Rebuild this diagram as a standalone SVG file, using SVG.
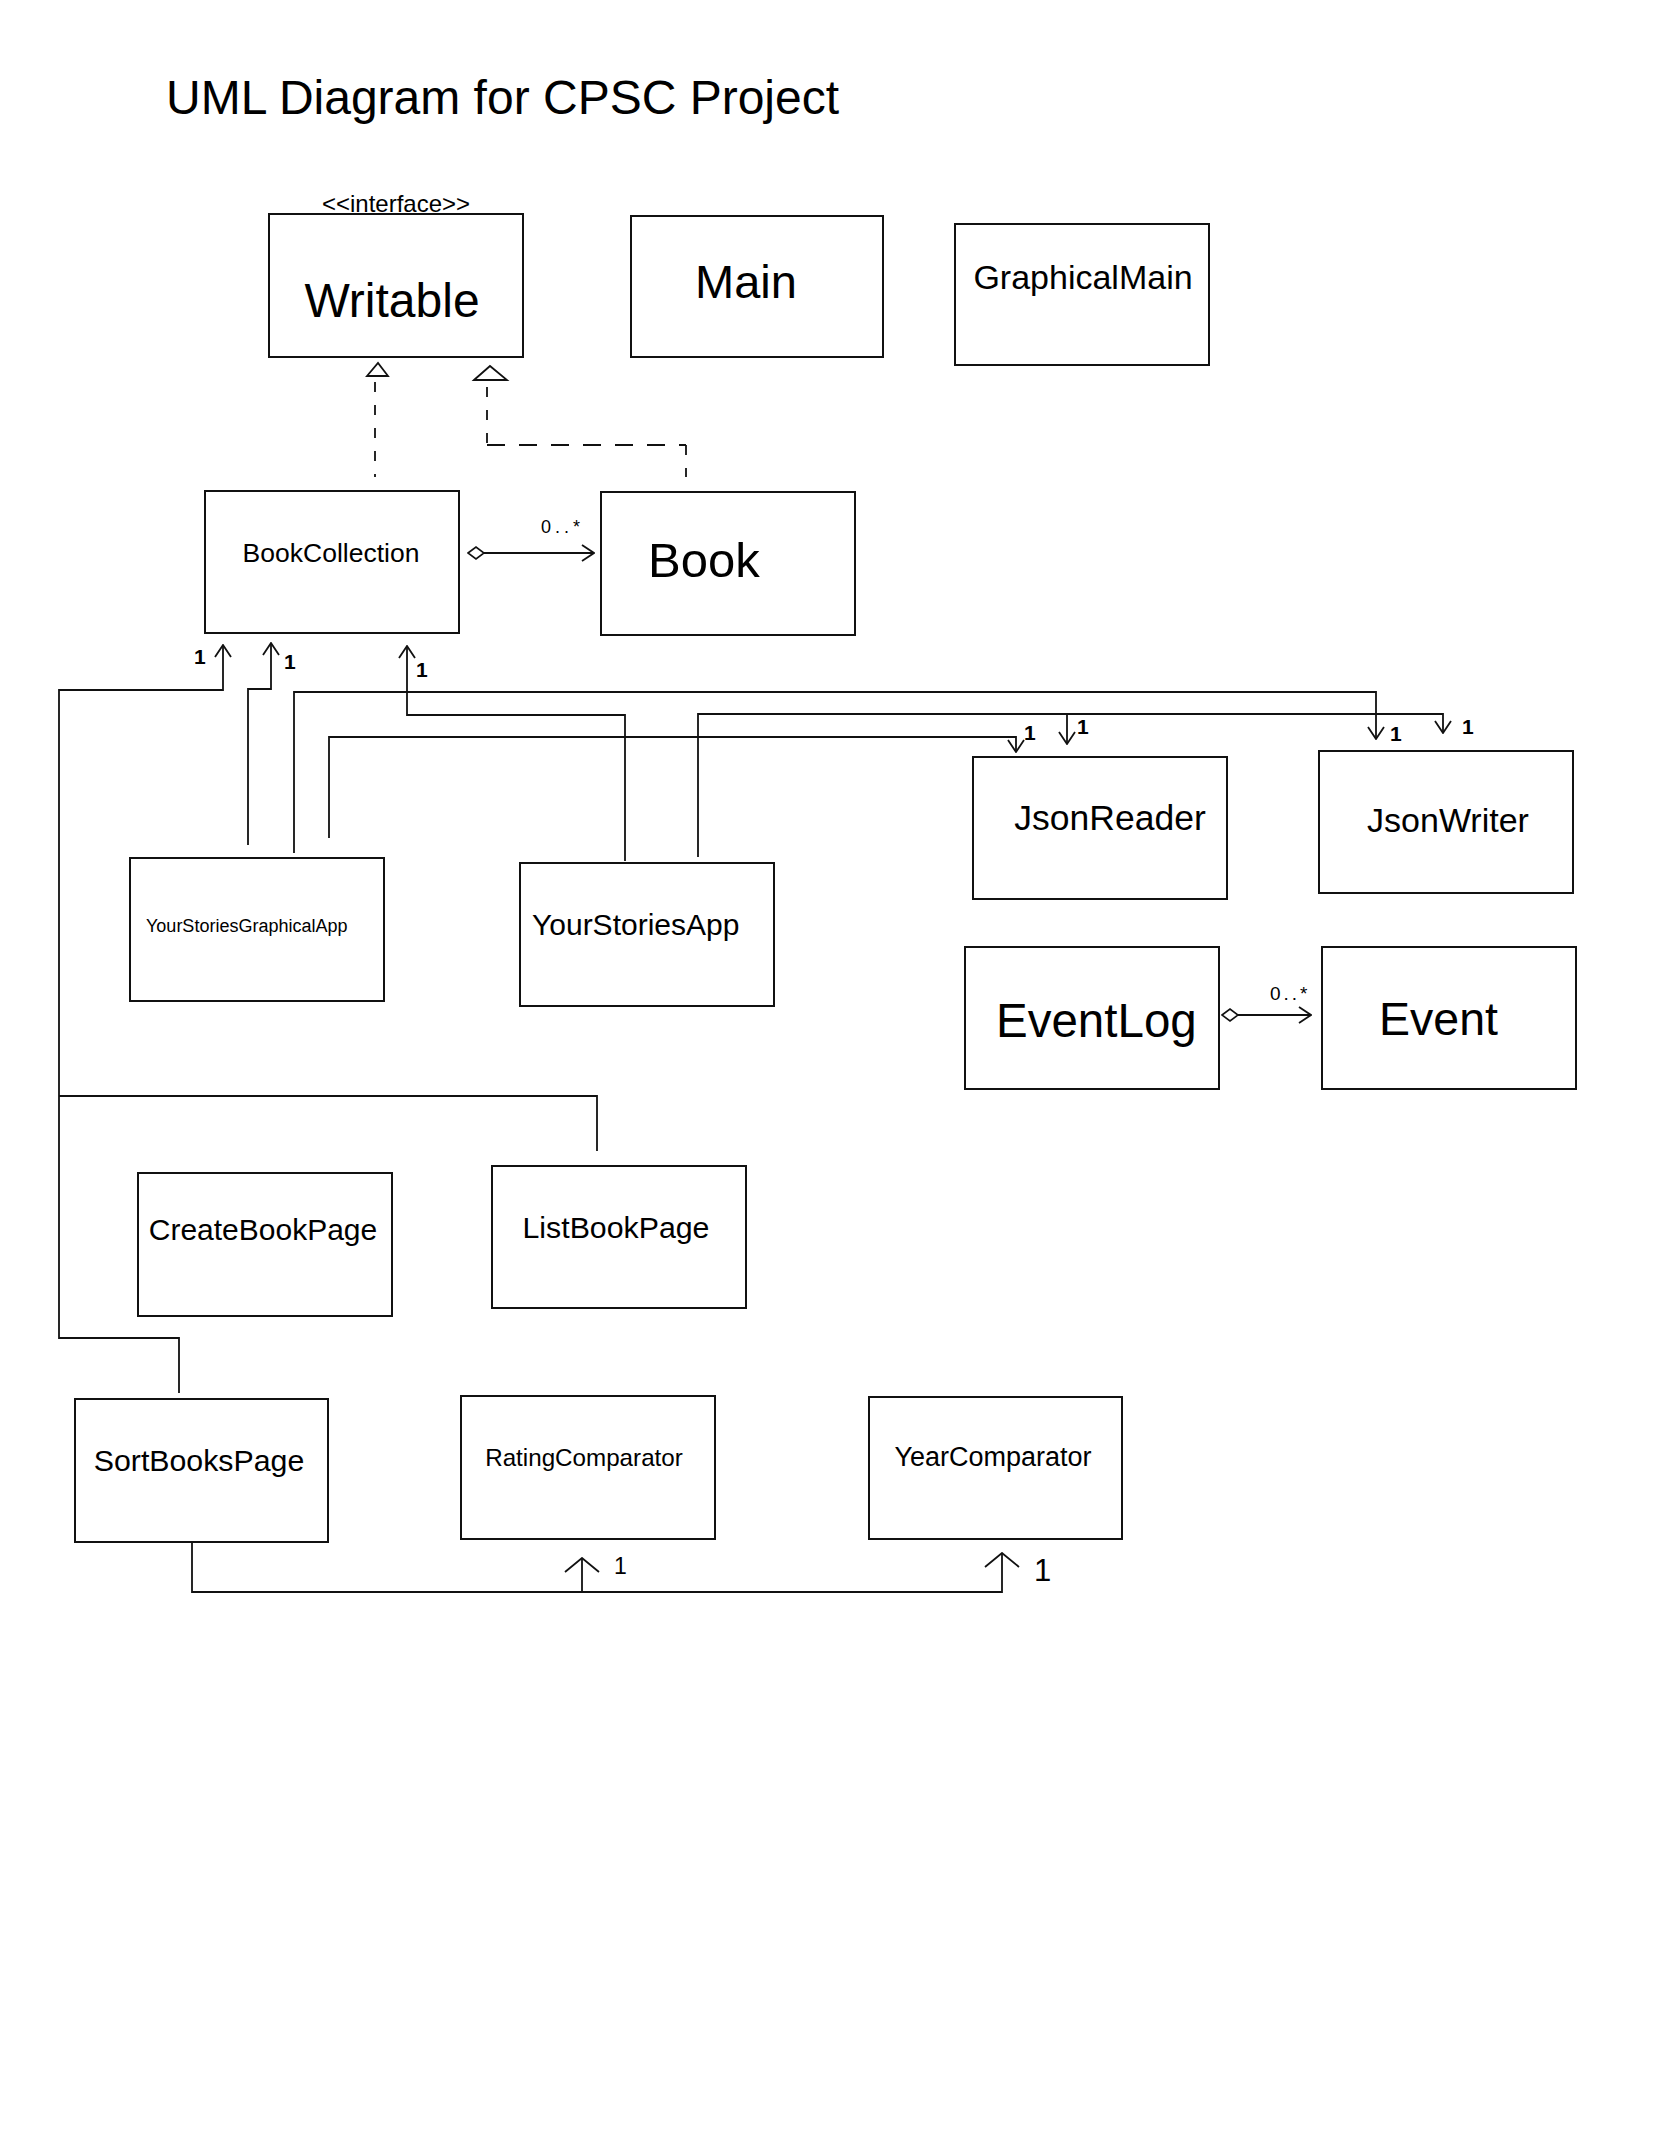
<svg xmlns="http://www.w3.org/2000/svg" width="1668" height="2154" viewBox="0 0 1668 2154">
<style>
  .box { fill: #fff; stroke: #111; stroke-width: 2; }
  .t { font-family: "Liberation Sans", Arial, Helvetica, sans-serif; fill: #000; }
  .c { text-anchor: middle; }
  .ln { fill: none; stroke: #111; stroke-width: 1.8; }
  .dash { fill: none; stroke: #111; stroke-width: 1.8; stroke-dasharray: 10 13; }
  .dashh { fill: none; stroke: #111; stroke-width: 1.8; stroke-dasharray: 18 14; }
  .tri { fill: #fff; stroke: #111; stroke-width: 1.8; }
  .m { font-family: "Liberation Sans", Arial, sans-serif; font-weight: bold; fill: #000; font-size: 21px; }
  .hm { font-family: "Liberation Sans", Arial, sans-serif; fill: #000; }
</style>
<defs>
  <marker id="open" viewBox="0 0 14 18" refX="13" refY="9" markerWidth="14" markerHeight="18" markerUnits="userSpaceOnUse" orient="auto">
    <path d="M1,1 L13,9 L1,17" fill="none" stroke="#111" stroke-width="1.8"/>
  </marker>
  <marker id="wide" viewBox="0 0 16 36" refX="15" refY="18" markerWidth="16" markerHeight="36" markerUnits="userSpaceOnUse" orient="auto">
    <path d="M1,1 L15,18 L1,35" fill="none" stroke="#111" stroke-width="1.8"/>
  </marker>
  <marker id="diamond" viewBox="0 0 18 14" refX="1" refY="7" markerWidth="18" markerHeight="14" markerUnits="userSpaceOnUse" orient="auto">
    <path d="M1,7 L9,1 L17,7 L9,13 Z" fill="#fff" stroke="#111" stroke-width="1.6"/>
  </marker>
</defs>
<rect width="1668" height="2154" fill="#fff"/>

<text class="t" x="166" y="114" font-size="48">UML Diagram for CPSC Project</text>

<g id="connectors">
  <!-- realization to Writable -->
  <polygon class="tri" points="367,376 378,363 388,376"/>
  <polygon class="tri" points="474,380 490,366 507,380"/>
  <path class="dash" d="M375,382 V477"/>
  <path class="dash" d="M487,387 V445"/>
  <path class="dashh" d="M487,445 H686"/>
  <path class="dash" d="M686,445 V477"/>
  <!-- aggregations -->
  <path class="ln" d="M468,553 H594" marker-start="url(#diamond)" marker-end="url(#open)"/>
  <text class="hm" x="541" y="533" font-size="18" letter-spacing="4">0..*</text>
  <path class="ln" d="M1222,1015 H1311" marker-start="url(#diamond)" marker-end="url(#open)"/>
  <text class="hm" x="1270" y="1000" font-size="19" letter-spacing="3">0..*</text>
  <!-- pages to BookCollection -->
  <path class="ln" d="M179,1393 V1338 H59 V690 H223 V645" marker-end="url(#open)"/>
  <path class="ln" d="M597,1151 V1096 H59"/>
  <text class="m" x="194" y="664">1</text>
  <!-- YourStoriesGraphicalApp -->
  <path class="ln" d="M248,845 V689 H271 V643" marker-end="url(#open)"/>
  <text class="m" x="284" y="669">1</text>
  <path class="ln" d="M294,853 V692 H1376 V739" marker-end="url(#open)"/>
  <text class="m" x="1390" y="741">1</text>
  <path class="ln" d="M329,838 V737 H1016 V752" marker-end="url(#open)"/>
  <text class="m" x="1024" y="740">1</text>
  <!-- YourStoriesApp -->
  <path class="ln" d="M625,861 V715 H407 V646" marker-end="url(#open)"/>
  <text class="m" x="416" y="677">1</text>
  <path class="ln" d="M698,857 V714 H1443 V733" marker-end="url(#open)"/>
  <path class="ln" d="M1067,714 V744" marker-end="url(#open)"/>
  <text class="m" x="1077" y="734">1</text>
  <text class="m" x="1462" y="734">1</text>
  <!-- SortBooksPage to comparators -->
  <path class="ln" d="M192,1542 V1592 H1002 V1553" marker-end="url(#wide)"/>
  <path class="ln" d="M582,1592 V1558" marker-end="url(#wide)"/>
  <text class="hm" x="614" y="1574" font-size="23">1</text>
  <text class="hm" x="1034" y="1581" font-size="31">1</text>
</g>

<g id="Writable">
  <rect class="box" x="269" y="214" width="254" height="143"/>
  <text class="t c" x="396" y="212" font-size="24">&lt;&lt;interface&gt;&gt;</text>
  <text class="t c" x="392" y="317" font-size="48">Writable</text>
</g>
<g id="Main">
  <rect class="box" x="631" y="216" width="252" height="141"/>
  <text class="t c" x="746" y="298" font-size="47">Main</text>
</g>
<g id="GraphicalMain">
  <rect class="box" x="955" y="224" width="254" height="141"/>
  <text class="t c" x="1083" y="289" font-size="34">GraphicalMain</text>
</g>
<g id="BookCollection">
  <rect class="box" x="205" y="491" width="254" height="142"/>
  <text class="t c" x="331" y="562" font-size="26.5">BookCollection</text>
</g>
<g id="Book">
  <rect class="box" x="601" y="492" width="254" height="143"/>
  <text class="t" x="648" y="577" font-size="49">Book</text>
</g>
<g id="YourStoriesGraphicalApp">
  <rect class="box" x="130" y="858" width="254" height="143"/>
  <text class="t" x="146" y="932" font-size="18">YourStoriesGraphicalApp</text>
</g>
<g id="YourStoriesApp">
  <rect class="box" x="520" y="863" width="254" height="143"/>
  <text class="t" x="532" y="935" font-size="30">YourStoriesApp</text>
</g>
<g id="JsonReader">
  <rect class="box" x="973" y="757" width="254" height="142"/>
  <text class="t c" x="1110" y="830" font-size="35.5">JsonReader</text>
</g>
<g id="JsonWriter">
  <rect class="box" x="1319" y="751" width="254" height="142"/>
  <text class="t c" x="1448" y="832" font-size="34">JsonWriter</text>
</g>
<g id="EventLog">
  <rect class="box" x="965" y="947" width="254" height="142"/>
  <text class="t" x="996" y="1037" font-size="47.5">EventLog</text>
</g>
<g id="Event">
  <rect class="box" x="1322" y="947" width="254" height="142"/>
  <text class="t" x="1379" y="1035" font-size="46.5">Event</text>
</g>
<g id="CreateBookPage">
  <rect class="box" x="138" y="1173" width="254" height="143"/>
  <text class="t c" x="263" y="1240" font-size="30">CreateBookPage</text>
</g>
<g id="ListBookPage">
  <rect class="box" x="492" y="1166" width="254" height="142"/>
  <text class="t c" x="616" y="1238" font-size="30.3">ListBookPage</text>
</g>
<g id="SortBooksPage">
  <rect class="box" x="75" y="1399" width="253" height="143"/>
  <text class="t c" x="199" y="1471" font-size="30.3">SortBooksPage</text>
</g>
<g id="RatingComparator">
  <rect class="box" x="461" y="1396" width="254" height="143"/>
  <text class="t c" x="584" y="1466" font-size="24.2">RatingComparator</text>
</g>
<g id="YearComparator">
  <rect class="box" x="869" y="1397" width="253" height="142"/>
  <text class="t c" x="993" y="1466" font-size="27">YearComparator</text>
</g>
</svg>
